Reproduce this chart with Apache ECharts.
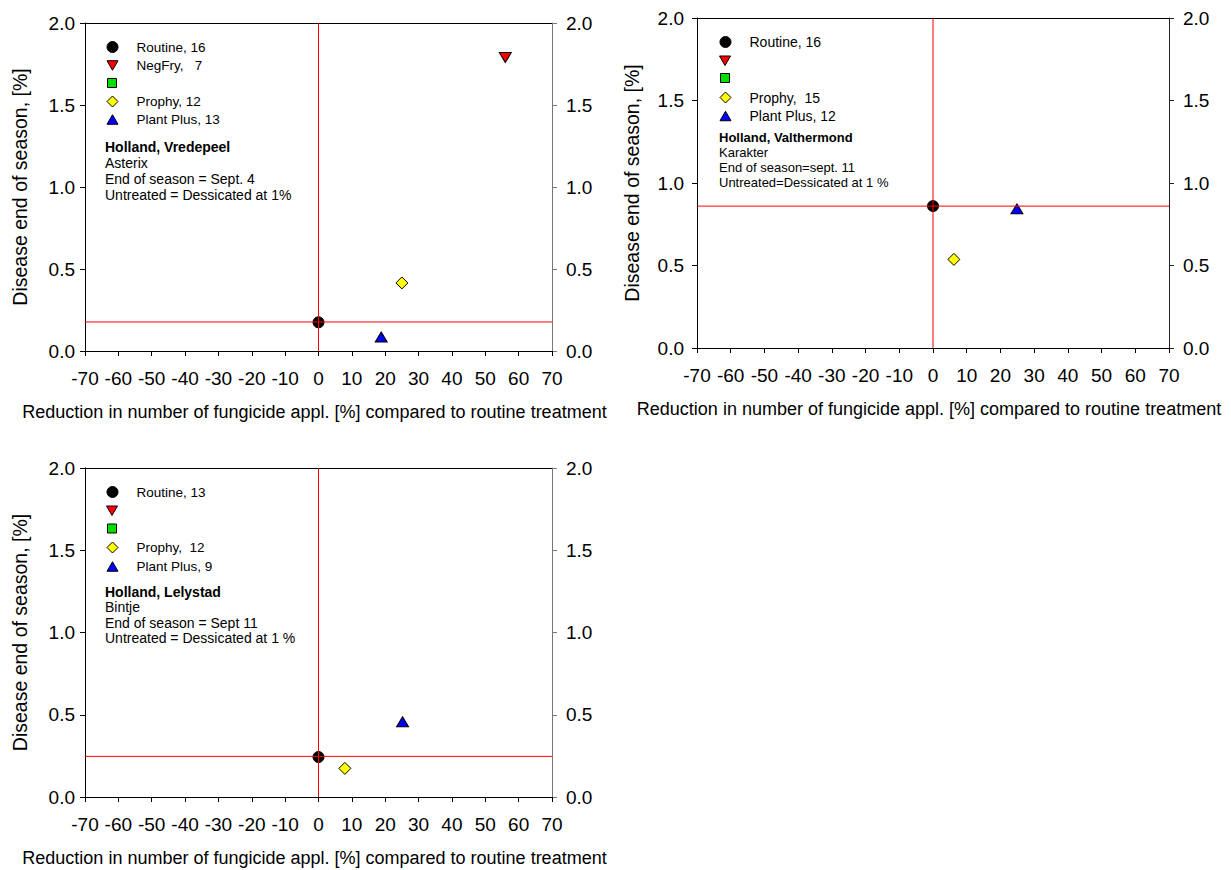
<!DOCTYPE html>
<html>
<head>
<meta charset="utf-8">
<script src="https://cdn.jsdelivr.net/npm/echarts@6/dist/echarts.min.js"></script>
<style>
html,body{margin:0;padding:0;background:#fff;}
#chart{width:1231px;height:870px;}
</style>
</head>
<body>
<div id="chart"></div>
<script>
// ---- data ----
const xTicks = [-70, -60, -50, -40, -30, -20, -10, 0, 10, 20, 30, 40, 50, 60, 70];
const yTicks = [0.0, 0.5, 1.0, 1.5, 2.0];
const xTitle = 'Reduction in number of fungicide appl. [%] compared to routine treatment';
const yTitle = 'Disease end of season, [%]';

// legend labels per panel ('' = symbol shown without a label)
const routineNames = ['Routine, 16', 'Routine, 16', 'Routine, 13'];
const negfryNames = ['NegFry,   7', '', ''];
const squareNames = ['', '', ''];
const prophyNames = ['Prophy, 12', 'Prophy,  15', 'Prophy,  12'];
const plantPlusNames = ['Plant Plus, 13', 'Plant Plus, 12', 'Plant Plus, 9'];

// points [reduction %, disease %] per panel
const routine = [[0, 0.175], [0, 0.86], [0, 0.243]];
const negfry = [[56, 1.79], null, null];
const square = [null, null, null];
const prophy = [[25, 0.415], [6.2, 0.537], [7.9, 0.174]];
const plantPlus = [[18.8, 0.085], [24.9, 0.843], [25.2, 0.457]];

// red reference lines through the routine treatment
const refX = [0, 0, 0];
const refY = [0.177, 0.86, 0.247];

// annotation text per panel
const siteNames = ['Holland, Vredepeel', 'Holland, Valthermond', 'Holland, Lelystad'];
const varieties = ['Asterix', 'Karakter', 'Bintje'];
const seasonEnds = ['End of season = Sept. 4', 'End of season=sept. 11', 'End of season = Sept 11'];
const untreatedNotes = ['Untreated = Dessicated at 1%', 'Untreated=Dessicated at 1 %', 'Untreated = Dessicated at 1 %'];

// ---- layout ----
const grids = [
  {left: 85, top: 23, width: 467, height: 328},
  {left: 697, top: 18, width: 472, height: 330},
  {left: 85, top: 468, width: 467, height: 329}
];
const legendIconX = [112, 725, 112];
const legendTextX = [136, 749, 136];
const legendRowY = [
  [47, 65.5, 83, 101.5, 119.5],
  [42, 60.5, 78, 97.5, 116],
  [492, 510.5, 528.5, 547.5, 566.5]
];
const legendFont = [13.5, 14, 13.5];
const notePos = [
  {left: 105, top: 139, lh: 16, fs: 14},
  {left: 719, top: 129.5, lh: 15, fs: 13},
  {left: 105, top: 584, lh: 15.5, fs: 14}
];
const rightAxisColor = ['#777', '#222', '#777'];
const FONT = '"Liberation Sans", Arial, Helvetica, sans-serif';
const ICON = 11;

const COLORS = {routine: '#000000', negfry: '#ff0000', square: '#00e000', prophy: '#ffff00', plant: '#0000ff'};
const ICONS = {
  routine: 'path://M5,0A5,5 0 1,1 4.999,0Z',
  negfry: 'path://M0,0L10,0L5,8.66Z',
  square: 'path://M0,0L10,0L10,10L0,10Z',
  prophy: 'path://M5,0L10,5L5,10L0,5Z',
  plant: 'path://M5,0L10,8.66L0,8.66Z'
};

const option = {
  animation: false,
  backgroundColor: '#ffffff',
  textStyle: {fontFamily: FONT, color: '#000'},
  grid: grids.map(g => Object.assign({containLabel: false}, g)),
  xAxis: [],
  yAxis: [],
  series: [],
  legend: [],
  graphic: []
};

for (let i = 0; i < 3; i++) {
  option.xAxis.push({
    type: 'value', gridIndex: i, position: 'bottom',
    min: xTicks[0], max: xTicks[xTicks.length - 1], interval: 10,
    axisLine: {show: true, onZero: false, lineStyle: {color: '#000', width: 1}},
    axisTick: {show: true, inside: false, length: 5, lineStyle: {color: '#000'}},
    axisLabel: {show: true, fontSize: 19, color: '#000', margin: 18, fontFamily: FONT},
    splitLine: {show: false},
    name: xTitle, nameLocation: 'middle', nameGap: 52,
    nameTextStyle: {fontSize: 18, color: '#000', fontFamily: FONT, padding: [0, 8, 0, 0]}
  });
  option.xAxis.push({
    type: 'value', gridIndex: i, position: 'top',
    min: xTicks[0], max: xTicks[xTicks.length - 1],
    axisLine: {show: true, onZero: false, lineStyle: {color: '#000', width: 1}},
    axisTick: {show: false}, axisLabel: {show: false}, splitLine: {show: false}
  });
  option.yAxis.push({
    type: 'value', gridIndex: i, position: 'left',
    min: yTicks[0], max: yTicks[yTicks.length - 1], interval: 0.5,
    axisLine: {show: true, onZero: false, lineStyle: {color: '#000', width: 1}},
    axisTick: {show: true, inside: false, length: 5, lineStyle: {color: '#000'}},
    axisLabel: {show: true, fontSize: 19, color: '#000', margin: i === 1 ? 13 : 10,
      fontFamily: FONT, formatter: v => v.toFixed(1)},
    splitLine: {show: false},
    name: yTitle, nameLocation: 'middle', nameGap: 55, nameRotate: 90,
    nameTextStyle: {fontSize: 19.5, color: '#000', fontFamily: FONT}
  });
  option.yAxis.push({
    type: 'value', gridIndex: i, position: 'right',
    min: yTicks[0], max: yTicks[yTicks.length - 1], interval: 0.5,
    axisLine: {show: true, onZero: false, lineStyle: {color: rightAxisColor[i], width: 1}},
    axisTick: {show: true, inside: false, length: 5, lineStyle: {color: rightAxisColor[i]}},
    axisLabel: {show: true, fontSize: 19, color: '#000', margin: 14,
      fontFamily: FONT, formatter: v => v.toFixed(1)},
    splitLine: {show: false}
  });

  const xi = 2 * i, yi = 2 * i;
  const pts = arr => (arr[i] ? [arr[i]] : []);
  const border = {borderColor: '#000', borderWidth: 1, opacity: 1};
  const sname = (label, key) => (label ? label : key + '-' + i);

  // reference lines (drawn through the axes' scales)
  option.series.push({
    type: 'line', name: 'refV-' + i, xAxisIndex: xi, yAxisIndex: yi,
    data: [[refX[i], yTicks[0]], [refX[i], yTicks[yTicks.length - 1]]],
    showSymbol: false, symbol: 'none', silent: true, z: 6,
    lineStyle: {color: '#ff0000', width: 1, type: 'solid', opacity: 1}
  });
  option.series.push({
    type: 'line', name: 'refH-' + i, xAxisIndex: xi, yAxisIndex: yi,
    data: [[xTicks[0], refY[i]], [xTicks[xTicks.length - 1], refY[i]]],
    showSymbol: false, symbol: 'none', silent: true, z: 6,
    lineStyle: {color: '#ff0000', width: 1, type: 'solid', opacity: 1}
  });

  const defs = [
    {key: 'routine', label: routineNames[i], data: routine, symbol: 'circle', size: 11, rot: 0},
    {key: 'negfry', label: negfryNames[i], data: negfry, symbol: 'triangle', size: [12, 10], rot: 180},
    {key: 'square', label: squareNames[i], data: square, symbol: 'rect', size: 9, rot: 0},
    {key: 'prophy', label: prophyNames[i], data: prophy, symbol: 'diamond', size: 12, rot: 0},
    {key: 'plant', label: plantPlusNames[i], data: plantPlus, symbol: 'triangle', size: [12, 10], rot: 0}
  ];

  defs.forEach((d, k) => {
    const name = sname(d.label, d.key);
    option.series.push({
      type: 'scatter', name: name, xAxisIndex: xi, yAxisIndex: yi,
      data: pts(d.data), symbol: d.symbol, symbolSize: d.size, symbolRotate: d.rot,
      itemStyle: Object.assign({color: COLORS[d.key]}, border), z: 3,
      emphasis: {disabled: true}
    });
    const cy = legendRowY[i][k];
    const cx = legendIconX[i];
    if (d.label) {
      const padLeft = legendTextX[i] - (cx + ICON / 2 + 5);
      option.legend.push({
        orient: 'vertical', left: cx - ICON / 2, top: cy - 7, padding: 0,
        itemWidth: ICON, itemHeight: ICON, itemGap: 0, selectedMode: false,
        symbolKeepAspect: true,
        textStyle: {fontSize: legendFont[i], lineHeight: 14, color: '#000', fontFamily: FONT,
          padding: [0, 0, 0, padLeft]},
        itemStyle: {borderColor: '#000', borderWidth: 1},
        data: [{name: name, icon: ICONS[d.key]}]
      });
    } else if (d.key === 'negfry') {
      option.graphic.push({
        type: 'polygon', silent: true, z: 10,
        shape: {points: [[cx - 5.5, cy - 4.5], [cx + 5.5, cy - 4.5], [cx, cy + 5]]},
        style: {fill: COLORS.negfry, stroke: '#000', lineWidth: 1}
      });
    } else if (d.key === 'square') {
      option.graphic.push({
        type: 'rect', silent: true, z: 10,
        shape: {x: cx - 4.5, y: cy - 4.5, width: 9, height: 9},
        style: {fill: COLORS.square, stroke: '#000', lineWidth: 1}
      });
    }
  });

  const np = notePos[i];
  option.graphic.push({
    type: 'text', left: np.left, top: np.top, silent: true,
    style: {
      text: '{b|' + siteNames[i] + '}\n' + varieties[i] + '\n' + seasonEnds[i] + '\n' + untreatedNotes[i],
      font: np.fs + 'px ' + FONT, fill: '#000', lineHeight: np.lh,
      rich: {b: {fontWeight: 'bold', fontSize: np.fs, fontFamily: FONT, lineHeight: np.lh}}
    }
  });
}

const chart = echarts.init(document.getElementById('chart'), null, {renderer: 'svg', width: 1231, height: 870});
chart.setOption(option);
</script>
</body>
</html>
